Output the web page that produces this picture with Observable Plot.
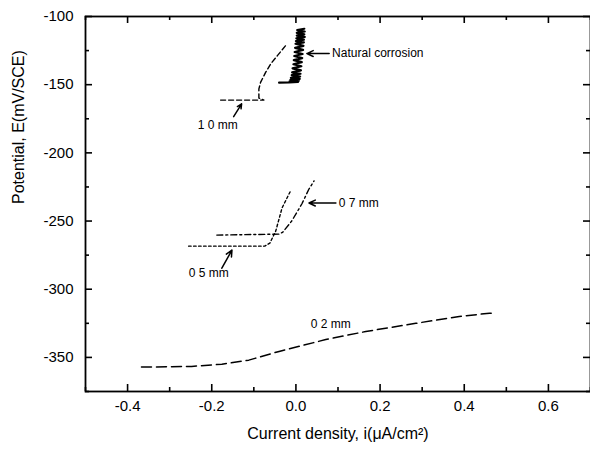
<!DOCTYPE html>
<html>
<head>
<meta charset="utf-8">
<script src="https://cdn.jsdelivr.net/npm/d3@7"></script>
<script src="https://cdn.jsdelivr.net/npm/@observablehq/plot@0.6"></script>
<style>
  html, body { margin: 0; padding: 0; background: #fff; }
  #chart { width: 590px; height: 455px; overflow: hidden; }
</style>
</head>
<body>
<div id="chart"></div>
<script>
// ---- Data ----
const xMajorTicks = [-0.4, -0.2, 0.0, 0.2, 0.4, 0.6];
const xMinorTicks = [-0.5, -0.3, -0.1, 0.1, 0.3, 0.5, 0.7];
const yMajorTicks = [-100, -150, -200, -250, -300, -350];
const yMinorTicks = [-125, -175, -225, -275, -325, -375];

// Natural corrosion (thick zig-zag band)
const natI = [0.020, 0.003, 0.021, 0.002, 0.020, 0.002, 0.021, 0.001, 0.019, 0.000, 0.019, -0.001, 0.018, -0.002, 0.017, -0.003, 0.016, -0.004, 0.015, -0.005, 0.014, -0.006, 0.013, -0.008, 0.012, -0.009, 0.011, -0.010, 0.010, -0.012, 0.009, -0.013, 0.007, -0.015, 0.005, -0.016, -0.040];
const natE = [-109, -110, -111, -112, -113, -114, -115, -116, -117, -118, -119, -120, -121.5, -123, -124.5, -126, -127.5, -129, -130.5, -132, -133.5, -135, -136.5, -138, -139.5, -141, -142, -143, -144, -145, -145.8, -146.5, -147.1, -147.6, -148, -148.3, -148.5];

// 1.0 mm
const mm10I = [-0.179, -0.076, -0.088, -0.088, -0.084, -0.072, -0.060, -0.044, -0.023];
const mm10E = [-161.3, -161.3, -159.8, -153.2, -148.3, -141.0, -134.8, -128.7, -120.8];

// 0.7 mm
const mm07I = [-0.188, -0.040, -0.031, -0.010, 0.014, 0.031, 0.043];
const mm07E = [-260.3, -259.6, -258.1, -250.0, -237.5, -226.5, -220.6];

// 0.5 mm
const mm05I = [-0.255, -0.074, -0.062, -0.048, -0.033, -0.014];
const mm05E = [-268.4, -268.4, -266.2, -257.4, -240.4, -228.7];

// 0.2 mm
const mm02I = [-0.367, -0.248, -0.176, -0.112, -0.040, 0.071, 0.166, 0.285, 0.388, 0.460, 0.475];
const mm02E = [-357.1, -356.6, -355.0, -352.0, -345.6, -336.9, -331.0, -325.0, -320.0, -317.6, -317.4];

// Annotation labels (left-anchored)
const leftLabelText = ["Natural corrosion", "0 7 mm"];
const leftLabelI    = [0.086, 0.102];
const leftLabelE    = [-127.2, -236.8];
// Annotation labels (centred)
const midLabelText = ["1 0 mm", "0 5 mm", "0 2 mm"];
const midLabelI    = [-0.186, -0.207, 0.083];
const midLabelE    = [-180.0, -288.2, -325.7];

// Annotation arrows (tail -> head)
const arrowI1 = [0.079, -0.148, 0.095, -0.176];
const arrowE1 = [-127.2, -173.5, -236.8, -284.6];
const arrowI2 = [0.026, -0.129, 0.031, -0.152];
const arrowE2 = [-127.2, -164.0, -236.8, -271.3];

const xTitle = "Current density, i(\u03bcA/cm\u00b2)";
const yTitle = "Potential, E(mV/SCE)";

// ---- Build tables ----
const pts = (I, E) => I.map((v, k) => ({i: v, e: E[k]}));
const nat = pts(natI, natE);
const mm10 = pts(mm10I, mm10E);
const mm07 = pts(mm07I, mm07E);
const mm05 = pts(mm05I, mm05E);
const mm02 = pts(mm02I, mm02E);
const leftLabels = leftLabelText.map((t, k) => ({t, i: leftLabelI[k], e: leftLabelE[k]}));
const midLabels = midLabelText.map((t, k) => ({t, i: midLabelI[k], e: midLabelE[k]}));
const arrows = arrowI1.map((v, k) => ({x1: v, y1: arrowE1[k], x2: arrowI2[k], y2: arrowE2[k]}));

const font = "'Liberation Sans', Arial, Helvetica, sans-serif";
const W = 590, H = 455, ML = 85, MR = 0, MT = 16, MB = 64;
const frameW = W - ML - MR, frameH = H - MT - MB;
const major = 7, minor = 4;
const tk = {stroke: "#000", strokeWidth: 1.6};

const chart = Plot.plot({
  width: W,
  height: H,
  marginLeft: ML,
  marginRight: MR,
  marginTop: MT,
  marginBottom: MB,
  style: {fontFamily: font, background: "#fff", color: "#000", overflow: "visible"},
  x: {domain: [-0.5, 0.7]},
  y: {domain: [-375, -100]},
  marks: [
    Plot.frame({stroke: "#000", fill: "none", strokeWidth: 1.8}),
    // tick labels
    Plot.axisX({ticks: xMajorTicks, tickSize: 0, tickPadding: 9, tickFormat: d => d.toFixed(1), label: null, fontSize: 15}),
    Plot.axisY({ticks: yMajorTicks, tickSize: 0, tickPadding: 12, tickFormat: d => String(d), label: null, fontSize: 15}),
    // inward ticks on all four sides
    Plot.ruleX(xMajorTicks, {...tk, x: d => d, insetTop: frameH - major}),
    Plot.ruleX(xMinorTicks, {...tk, x: d => d, insetTop: frameH - minor}),
    Plot.ruleX(xMajorTicks, {...tk, x: d => d, insetBottom: frameH - major}),
    Plot.ruleX(xMinorTicks, {...tk, x: d => d, insetBottom: frameH - minor}),
    Plot.ruleY(yMajorTicks, {...tk, y: d => d, insetRight: frameW - major}),
    Plot.ruleY(yMinorTicks, {...tk, y: d => d, insetRight: frameW - minor}),
    Plot.ruleY(yMajorTicks, {...tk, y: d => d, insetLeft: frameW - major}),
    Plot.ruleY(yMinorTicks, {...tk, y: d => d, insetLeft: frameW - minor}),
    // axis titles
    Plot.text([xTitle], {frameAnchor: "bottom", dy: 47, text: d => d, fontSize: 16, fill: "#000"}),
    Plot.text([yTitle], {frameAnchor: "left", dx: -67, rotate: -90, text: d => d, fontSize: 16, fill: "#000"}),
    // curves
    Plot.line(mm02, {x: "i", y: "e", stroke: "#000", strokeWidth: 1.5, strokeDasharray: "10,5"}),
    Plot.line(mm05, {x: "i", y: "e", stroke: "#000", strokeWidth: 1.4, strokeDasharray: "2.5,2.5"}),
    Plot.line(mm07, {x: "i", y: "e", stroke: "#000", strokeWidth: 1.4, strokeDasharray: "6,3,2,3"}),
    Plot.line(mm10, {x: "i", y: "e", stroke: "#000", strokeWidth: 1.4, strokeDasharray: "5,3"}),
    Plot.line(nat, {x: "i", y: "e", stroke: "#000", strokeWidth: 2.2}),
    // annotations
    Plot.arrow(arrows, {x1: "x1", y1: "y1", x2: "x2", y2: "y2", stroke: "#000", strokeWidth: 1.5, headLength: 7, headAngle: 50}),
    Plot.text(leftLabels, {x: "i", y: "e", text: "t", textAnchor: "start", fontSize: 12, fill: "#000"}),
    Plot.text(midLabels, {x: "i", y: "e", text: "t", textAnchor: "middle", fontSize: 12, fill: "#000"})
  ]
});
document.getElementById("chart").appendChild(chart);
</script>
</body>
</html>
